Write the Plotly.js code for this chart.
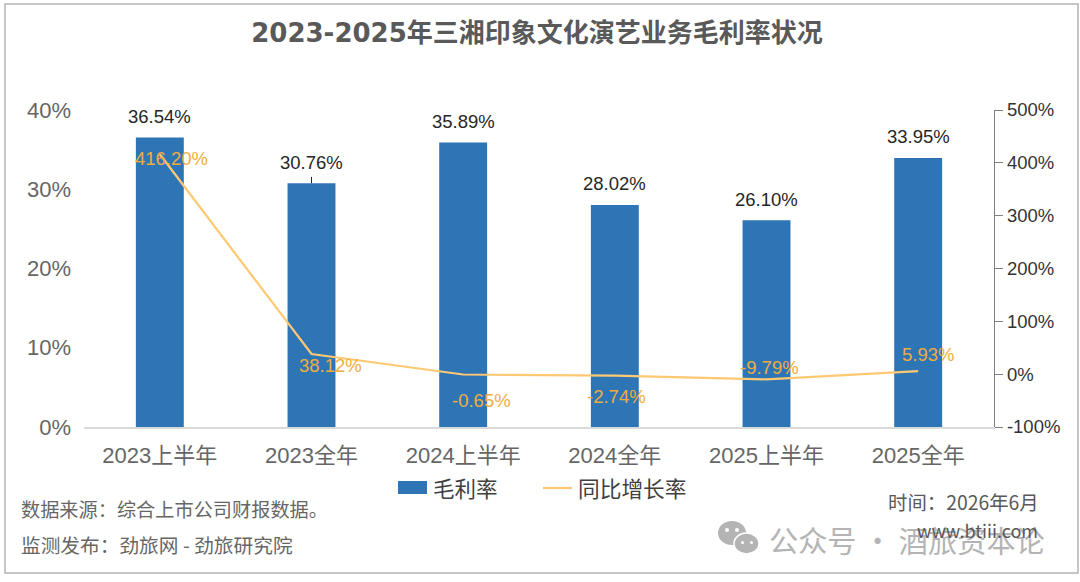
<!DOCTYPE html>
<html>
<head>
<meta charset="utf-8">
<script src="https://cdn.plot.ly/plotly-3.0.1.min.js"></script>
<style>
  html, body { margin: 0; padding: 0; background: #fff; }
  #chart { width: 1080px; height: 582px; }
</style>
</head>
<body>
<div id="chart"></div>
<script>
const FONT = '"Liberation Sans", "Noto Sans CJK SC", sans-serif';
const CJK = '"Noto Sans CJK SC", "Liberation Sans", sans-serif';
const BLUE = "#2e75b6";
const ORANGE = "#ffc872";
const MARK = "#b4b4b4";

const periods = ["2023上半年", "2023全年", "2024上半年", "2024全年", "2025上半年", "2025全年"];
const grossMargin = [36.54, 30.76, 35.89, 28.02, 26.10, 33.95];
const growthRate = [416.20, 38.12, -0.65, -2.74, -9.79, 5.93];
const growthLabelShift = [[12, -4], [19, -11], [18, -26], [2, -21], [3, 12], [10, 17]];

const W = 1080, H = 582;
const m = { l: 84, r: 86, t: 110, b: 155 };
const px = (x) => (x - m.l) / (W - m.l - m.r);
const py = (y) => 1 - (y - m.t) / (H - m.t - m.b);

const traces = [
  {
    type: "bar",
    name: "毛利率",
    x: periods,
    y: grossMargin,
    width: 0.316,
    marker: { color: BLUE },
    hoverinfo: "skip",
  },
  {
    type: "scatter",
    mode: "lines",
    name: "同比增长率",
    x: periods,
    y: growthRate,
    yaxis: "y2",
    line: { color: ORANGE, width: 2.2 },
    hoverinfo: "skip",
  },
];

const annotations = [];

grossMargin.forEach((v, i) => {
  annotations.push({
    x: periods[i], y: v, xref: "x", yref: "y",
    text: v.toFixed(2) + "%",
    showarrow: false,
    yshift: 21,
    font: { family: FONT, size: 18.5, color: "#262626" },
  });
});

growthRate.forEach((v, i) => {
  annotations.push({
    x: periods[i], y: v, xref: "x", yref: "y2",
    text: v.toFixed(2) + "%",
    showarrow: false,
    xshift: growthLabelShift[i][0],
    yshift: growthLabelShift[i][1],
    font: { family: FONT, size: 18.5, color: "#f0ad3e" },
  });
});

function note(text, x, y, size, color) {
  annotations.push({
    xref: "paper", yref: "paper",
    x: px(x), y: py(y),
    xanchor: "left", yanchor: "middle",
    text, showarrow: false,
    font: { family: CJK, size, color },
  });
}
note("公众号 · 酒旅资本论", 767, 539, 29.2, MARK);
note("数据来源：综合上市公司财报数据。", 18.5, 509, 19.2, "#666666");
note("监测发布：劲旅网 - 劲旅研究院", 18.5, 544, 19.7, "#666666");
note("时间：2026年6月", 886, 501, 19.4, "#595959");
note("www.btiii.com", 915, 530, 18, "#595959");
// legend labels
note("毛利率", 431, 487, 21.5, "#404040");
note("同比增长率", 576, 487, 21.7, "#404040");

function bubble(x0, x1, y0, y1, fill, line) {
  return {
    type: "circle", xref: "paper", yref: "paper",
    x0: px(x0), x1: px(x1), y0: py(y0), y1: py(y1),
    fillcolor: fill, line: line || { width: 0 },
  };
}

const shapes = [
  { type: "rect", xref: "paper", yref: "paper", x0: px(5), x1: px(1078), y0: py(4), y1: py(573),
    line: { color: MARK, width: 1.5 }, fillcolor: "rgba(0,0,0,0)" },
  // leader of the 30.76% label
  { type: "line", xref: "x", yref: "y", x0: periods[1], x1: periods[1], y0: grossMargin[1], y1: grossMargin[1] + 0.8,
    line: { color: "#262626", width: 1 } },
  // legend swatch and line
  { type: "rect", xref: "paper", yref: "paper", x0: px(398), x1: px(427), y0: py(481), y1: py(494),
    fillcolor: BLUE, line: { width: 0 } },
  { type: "line", xref: "paper", yref: "paper", x0: px(543), x1: px(572), y0: py(488), y1: py(488),
    line: { color: ORANGE, width: 2.2 } },
  // watermark icon
  bubble(718, 746, 521, 545, MARK),
  bubble(734, 759, 533, 554, MARK, { color: "#fff", width: 1.5 }),
  bubble(725, 729, 528, 532, "#fff"),
  bubble(735, 739, 528, 532, "#fff"),
  bubble(741, 744, 541, 544, "#fff"),
  bubble(750, 753, 541, 544, "#fff"),
];

const layout = {
  width: W,
  height: H,
  margin: m,
  paper_bgcolor: "#fff",
  plot_bgcolor: "#fff",
  font: { family: FONT },
  showlegend: false,
  title: {
    text: "<b>2023-2025年三湘印象文化演艺业务毛利率状况</b>",
    x: 537 / W, xanchor: "center", y: 1 - 33 / H, yanchor: "middle",
    font: { family: '"DejaVu Sans", "Noto Sans CJK SC", sans-serif', size: 26, color: "#595959" },
  },
  bargap: 0.684,
  xaxis: {
    type: "category",
    categoryorder: "array",
    categoryarray: periods,
    showline: true,
    linecolor: "#d9d9d9",
    linewidth: 1.5,
    ticks: "",
    tickfont: { family: FONT, size: 22, color: "#666666" },
    ticklabelstandoff: 8,
  },
  yaxis: {
    range: [0, 40],
    tickvals: [0, 10, 20, 30, 40],
    ticktext: ["0%", "10%", "20%", "30%", "40%"],
    showgrid: false,
    zeroline: false,
    showline: false,
    ticks: "",
    tickfont: { family: FONT, size: 22, color: "#666666" },
    ticklabelstandoff: 12,
  },
  yaxis2: {
    overlaying: "y",
    side: "right",
    range: [-100, 500],
    tickvals: [-100, 0, 100, 200, 300, 400, 500],
    ticktext: ["-100%", "0%", "100%", "200%", "300%", "400%", "500%"],
    showgrid: false,
    zeroline: false,
    showline: true,
    linecolor: "#7f7f7f",
    linewidth: 1.2,
    ticks: "outside",
    ticklen: 8,
    tickcolor: "#7f7f7f",
    tickfont: { family: FONT, size: 18.5, color: "#333333" },
  },
  annotations,
  shapes,
};

Plotly.newPlot("chart", traces, layout, { displayModeBar: false, staticPlot: true });
</script>
</body>
</html>
